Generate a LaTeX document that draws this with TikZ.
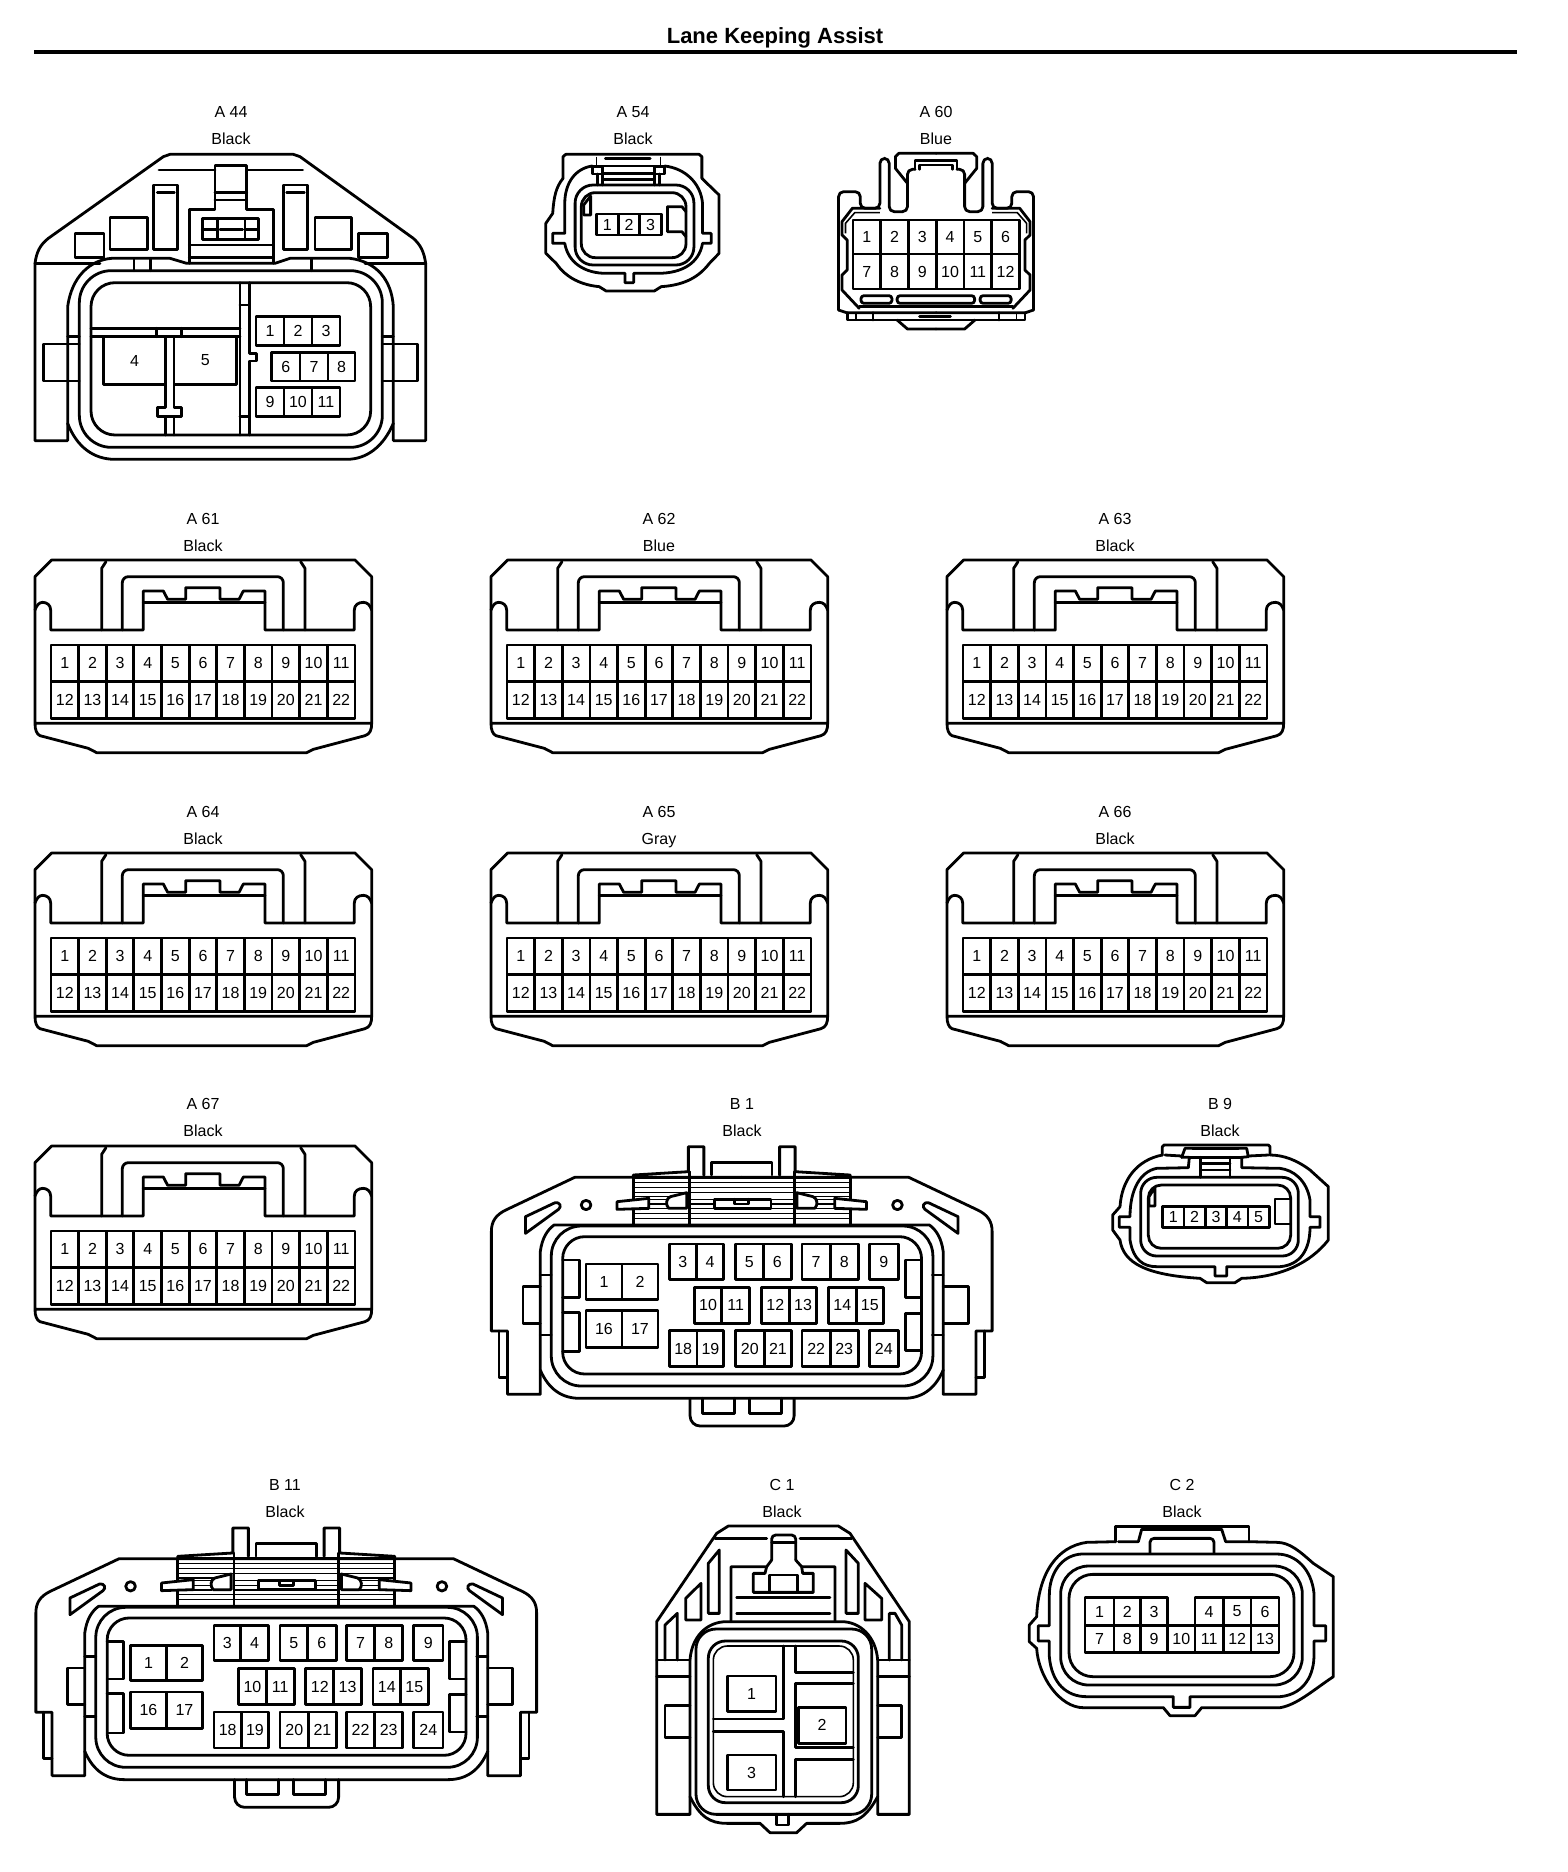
\documentclass[tikz,border=0pt]{standalone}
\usepackage{fontspec}
\setmainfont{Liberation Sans}

\tikzset{
  wire/.style={line width=2.8pt, line join=round, line cap=round},
  fine/.style={line width=1.6pt},
  pinnum/.style={inner sep=0pt, font=\fontsize{16}{16}\selectfont},
  tag/.style={inner sep=0pt, text height=11.5pt, text depth=0pt, font=\fontsize{16}{16}\selectfont},
}

% one pin per entry: number/left/top/right/bottom
\newcommand{\pincells}[1]{%
  \foreach \n/\xa/\ya/\xb/\yb in {#1} {
    \draw[wire] (\xa,\ya) rectangle (\xb,\yb) node[pinnum, midway] (pin\n) {\n};
  }}
% a row of equal pins: first number/last number/left/step/top/bottom
\newcommand{\pinrow}[6]{%
  \foreach \n in {#1,...,#2} {
    \pgfmathsetmacro{\xa}{#3+#4*(\n-#1)}
    \pgfmathsetmacro{\xb}{\xa+#4}
    \draw[wire] (\xa,#5) rectangle (\xb,#6) node[pinnum, midway] (pin\n) {\n};
  }}
\newcommand{\conlabel}[5]{%
  \node[tag] (#1name) at (#2,#3) {#4};
  \node[tag] (#1color) at (#2,#3+27) {#5};}

% half of the large 24 pin housing
\newcommand{\bigside}{%
  \draw[wire] (760,232) -- (445,232) -- (445,225) -- (605,215) -- (605,140) -- (650,140) -- (650,225);
  \draw[wire] (445,232) -- (275,232) -- (75,330) .. controls (45,345) and (33,365) .. (33,395) -- (33,693) -- (80,693) -- (80,883) -- (175,883) -- (175,810);
  \draw[wire] (55,693) -- (55,832) -- (80,832);
  \draw[wire] (175,525) -- (207,525);
  \draw[wire] (175,705) -- (207,705);
  \draw[wire] (672,225) -- (672,187) -- (760,187);
  \draw[wire] (608,215) -- (608,372);
  \draw[wire] (445,232) -- (445,372);
  \foreach \yy in {247,262,277,340,355} {\draw[fine] (445,\yy) -- (760,\yy);}
  \foreach \yy in {298,312,326} {
    \draw[fine] (490,\yy) -- (545,\yy);
    \draw[fine] (610,\yy) -- (680,\yy);
  }
  \draw[fine] (445,290) -- (600,290);
  \draw[wire, fill=white] (398,305) -- (490,295) -- (490,325) -- (398,328) -- cycle;
  \draw[wire, fill=white] (600,278) -- (553,290) .. controls (540,295) and (538,315) .. (548,325) -- (600,325) -- cycle;
  \draw[wire] (308,315) circle [radius=14];
  \draw[wire] (132,350) -- (218,308) .. controls (232,305) and (238,320) .. (228,328) -- (132,400) -- cycle;
}

\tikzset{
  acon/.pic={
    \begin{scope}[scale=1/3]
      \draw[wire] (45,640) -- (45,200) -- (95,150) -- (1005,150) -- (1055,200) -- (1055,640) .. controls (1055,660) and (1050,672) .. (1035,677) -- (880,718) -- (860,728) -- (230,728) -- (205,715) -- (60,677) .. controls (50,672) and (45,660) .. (45,640) -- (1055,640);
      \draw[wire] (45,300) .. controls (50,285) and (58,277) .. (68,277) .. controls (80,277) and (92,285) .. (92,300) -- (92,360) -- (370,360) -- (370,243) -- (430,243) -- (443,268) -- (497,268) -- (497,233) -- (600,233) -- (600,268) -- (657,268) -- (670,243) -- (735,243) -- (735,360) -- (1003,360) -- (1003,300) .. controls (1003,285) and (1015,277) .. (1030,277) .. controls (1042,277) and (1050,285) .. (1055,300);
      \draw[wire] (370,278) -- (735,278);
      \draw[wire] (245,360) -- (245,175) -- (258,155);
      \draw[wire] (855,360) -- (855,175) -- (842,155);
      \draw[wire, rounded corners=6pt] (307,360) -- (307,200) -- (790,200) -- (790,360);
      \pinrow{1}{11}{93}{82.9}{405}{515}
      \pinrow{12}{22}{93}{82.9}{515}{625}
    \end{scope}
  },
  bcon/.pic={
    \begin{scope}[xscale=0.3444, yscale=1/3]
      \bigside
      \begin{scope}[xshift=1520pt, xscale=-1]
        \bigside
      \end{scope}
      \draw[wire] (445,232) -- (1075,232);
      \draw[wire, fill=white] (680,298) rectangle (845,325);
      \draw[wire] (740,298) -- (740,312) -- (780,312) -- (780,298);
      \draw[wire] (175,810) -- (175,455) .. controls (180,415) and (195,390) .. (215,375) -- (1305,375) .. controls (1325,390) and (1340,415) .. (1345,455) -- (1345,810) .. controls (1320,870) and (1280,895) .. (1230,895) -- (290,895) .. controls (240,895) and (200,870) .. (175,810);
      \draw[wire, rounded corners=30pt] (207,378) rectangle (1315,858);
      \draw[wire, rounded corners=22pt] (240,410) rectangle (1282,822);
      \draw[wire] (175,560) -- (125,560) -- (125,670) -- (175,670);
      \draw[wire] (1345,560) -- (1418,560) -- (1418,670) -- (1345,670);
      \draw[wire] (240,480) -- (288,480) -- (288,593) -- (240,593);
      \draw[wire] (240,637) -- (288,637) -- (288,755) -- (240,755);
      \draw[wire] (1282,480) -- (1235,480) -- (1235,593) -- (1282,593);
      \draw[wire] (1282,640) -- (1235,640) -- (1235,752) -- (1282,752);
      \draw[wire, rounded corners=10pt] (610,895) -- (610,978) -- (912,978) -- (912,895);
      \draw[wire] (645,895) -- (645,940) -- (738,940) -- (738,895);
      \draw[wire] (782,895) -- (782,940) -- (875,940) -- (875,895);
      \pincells{1/308/492/412/598, 2/412/492/517/598, 16/308/632/412/742, 17/412/632/517/742,
        3/550/432/628/538, 4/628/432/708/538, 5/742/432/822/538, 6/822/432/905/538,
        7/935/432/1017/538, 8/1017/432/1098/538, 9/1130/432/1215/538,
        10/622/562/702/670, 11/702/562/783/670, 12/817/562/898/670, 13/898/562/978/670,
        14/1012/562/1092/670, 15/1092/562/1172/670,
        18/550/692/630/800, 19/630/692/708/800, 20/742/692/825/800, 21/825/692/905/800,
        22/935/692/1017/800, 23/1017/692/1098/800, 24/1130/692/1215/800}
    \end{scope}
  },
}

\begin{document}
\begin{tikzpicture}[x=1pt, y=-1pt]
    \useasboundingbox (0,0) rectangle (1568,1872);

    \node[inner sep=0pt, font=\fontsize{22}{22}\selectfont\bfseries] (title) at (775,38) {Lane Keeping Assist};
    \coordinate (ruleL) at (34,52);
    \coordinate (ruleR) at (1517,52);
    \draw[line width=4pt] (ruleL) -- (ruleR);

    \conlabel{a44}{231}{112}{A 44}{Black}
    \conlabel{a54}{633}{112}{A 54}{Black}
    \conlabel{a60}{936}{112}{A 60}{Blue}
    \conlabel{a61}{203}{519}{A 61}{Black}
    \conlabel{a62}{659}{519}{A 62}{Blue}
    \conlabel{a63}{1115}{519}{A 63}{Black}
    \conlabel{a64}{203}{812}{A 64}{Black}
    \conlabel{a65}{659}{812}{A 65}{Gray}
    \conlabel{a66}{1115}{812}{A 66}{Black}
    \conlabel{a67}{203}{1104}{A 67}{Black}
    \conlabel{b1}{742}{1104}{B 1}{Black}
    \conlabel{b9}{1220}{1104}{B 9}{Black}
    \conlabel{b11}{285}{1485}{B 11}{Black}
    \conlabel{c1}{782}{1485}{C 1}{Black}
    \conlabel{c2}{1182}{1485}{C 2}{Black}

    % A 44
    \begin{scope}[scale=1/3, name prefix=a44]
      \draw[wire] (203,1270) -- (203,1322) -- (105,1322) -- (105,790) .. controls (110,755) and (120,735) .. (145,715) -- (490,470) -- (510,463) -- (880,463) -- (900,470) -- (1240,715) .. controls (1262,735) and (1272,755) .. (1277,790) -- (1277,1322) -- (1180,1322) -- (1180,1270);
      \draw[wire] (105,790) -- (300,790);
      \draw[wire] (1095,790) -- (1277,790);
      \draw[wire] (203,1270) -- (203,920) .. controls (215,830) and (270,780) .. (335,775) -- (510,775) -- (560,790) -- (825,790) -- (870,775) -- (1050,775) .. controls (1130,785) and (1175,840) .. (1180,920) -- (1180,1270) .. controls (1150,1340) and (1100,1378) .. (1040,1378) -- (345,1378) .. controls (280,1378) and (230,1340) .. (203,1270);
      \draw[wire, rounded corners=32pt] (238,812) rectangle (1147,1342);
      \draw[wire, rounded corners=24pt] (273,848) rectangle (1112,1305);
      \draw[wire] (203,1032) -- (130,1032) -- (130,1143) -- (238,1143);
      \draw[wire] (203,1010) -- (238,1010);
      \draw[wire] (203,1032) -- (238,1032);
      \draw[wire] (1147,1010) -- (1180,1010);
      \draw[wire] (1147,1032) -- (1253,1032) -- (1253,1143) -- (1147,1143);
      \draw[wire] (402,778) -- (402,812);
      \draw[wire] (452,778) -- (452,812);
      \draw[wire] (935,778) -- (935,812);
      % cover
      \draw[wire] (477,510) -- (645,510);
      \draw[wire] (740,510) -- (908,510);
      \draw[wire] (568,790) -- (568,628) -- (645,628) -- (645,497) -- (740,497) -- (740,628) -- (820,628) -- (820,790);
      \draw[wire] (645,577) -- (740,577);
      \draw[wire] (645,600) -- (740,600);
      \draw[wire] (607,718) rectangle (775,655);
      \draw[wire] (652,655) -- (652,718);
      \draw[wire] (735,655) -- (735,718);
      \draw[wire] (607,688) -- (652,688);
      \draw[wire] (660,688) -- (728,688);
      \draw[wire] (735,688) -- (775,688);
      \draw[wire] (568,735) -- (820,735);
      \draw[wire] (568,773) -- (820,773);
      \draw[wire] (460,555) rectangle (533,748);
      \draw[wire] (472,578) -- (523,578);
      \draw[wire] (850,555) rectangle (923,748);
      \draw[wire] (860,578) -- (913,578);
      \draw[wire] (330,652) rectangle (442,748);
      \draw[wire] (945,652) rectangle (1055,748);
      \draw[wire] (225,700) rectangle (312,772);
      \draw[wire] (1075,700) rectangle (1162,772);
      % walls
      \draw[wire] (273,985) -- (720,985);
      \draw[wire] (273,1010) -- (720,1010);
      \draw[wire] (470,985) -- (470,1010);
      \draw[wire] (545,985) -- (545,1010);
      \draw[wire] (720,848) -- (720,1305);
      \draw[wire] (748,848) -- (748,1060) -- (770,1060) -- (770,1083) -- (748,1083) -- (748,1305);
      \draw[wire] (720,915) -- (748,915);
      \draw[wire] (720,1250) -- (748,1250);
      \draw[wire] (497,1010) -- (497,1222) -- (472,1222) -- (472,1250) -- (545,1250) -- (545,1222) -- (522,1222) -- (522,1010);
      \draw[wire] (497,1250) -- (497,1305);
      \draw[wire] (522,1250) -- (522,1305);
      \pincells{4/310/1010/497/1153, 5/522/1010/710/1153,
        1/768/950/852/1037, 2/852/950/936/1037, 3/936/950/1020/1037,
        6/815/1058/900/1143, 7/900/1058/984/1143, 8/984/1058/1065/1143,
        9/768/1163/852/1250, 10/852/1163/936/1250, 11/936/1163/1020/1250}
    \end{scope}

    % A 54
    \begin{scope}[shift={(520,90)}, xscale=0.3444, yscale=1/3, name prefix=a54]
      \draw[wire] (125,265) -- (125,200) -- (133,193) -- (520,193) -- (528,200) -- (528,265);
      \draw[wire] (125,265) .. controls (105,290) and (98,320) .. (95,370) -- (75,400) -- (75,490) -- (105,520) .. controls (135,565) and (180,585) .. (230,590) -- (250,603) -- (390,603) -- (410,590) .. controls (480,585) and (520,560) .. (550,520) -- (578,490) -- (578,315) -- (528,265);
      \draw[fine] (222,200) -- (222,228);
      \draw[fine] (408,200) -- (408,228);
      \draw[wire] (248,205) -- (378,205);
      \draw[wire] (210,228) .. controls (160,235) and (130,280) .. (130,340) -- (130,430) -- (95,430) -- (95,460) -- (130,460) .. controls (140,520) and (190,550) .. (250,550) -- (305,550) -- (305,578) -- (330,578) -- (330,550) -- (400,550) .. controls (470,550) and (520,520) .. (530,460) -- (555,460) -- (555,430) -- (530,430) -- (530,340) .. controls (525,280) and (480,235) .. (420,228);
      \draw[wire, rounded corners=18pt] (160,285) rectangle (505,525);
      \draw[wire, rounded corners=14pt] (178,308) rectangle (482,503);
      \draw[wire] (210,230) rectangle (240,252);
      \draw[wire] (390,230) rectangle (420,252);
      \draw[wire] (225,252) -- (225,285);
      \draw[wire] (240,252) -- (240,285);
      \draw[wire] (390,252) -- (390,285);
      \draw[wire] (405,252) -- (405,285);
      \draw[wire] (210,228) -- (420,228);
      \draw[wire] (245,250) -- (385,250);
      \draw[wire] (245,268) -- (385,268);
      \draw[wire] (205,318) -- (185,345) -- (185,375) -- (205,375) -- cycle;
      \draw[wire] (482,365) -- (470,350) -- (428,350) -- (428,425) -- (470,425) -- (482,440);
      \pincells{1/222/372/285/435, 2/285/372/348/435, 3/348/372/410/435}
    \end{scope}

    % A 60
    \begin{scope}[shift={(520,90)}, xscale=0.3444, yscale=1/3, name prefix=a60]
      \foreach \mir/\off in {1/0, -1/2416} {
        \begin{scope}[xshift=\off pt, xscale=\mir]
          \draw[wire, rounded corners=5pt] (925,660) -- (925,305) -- (988,305) -- (988,355) -- (1045,355) -- (1045,205) -- (1072,205) -- (1072,365) -- (1125,365) -- (1125,238) -- (1147,238);
          \draw[wire] (1208,190) -- (1100,190) -- (1090,200) -- (1090,235) -- (1125,280);
          \draw[wire] (1147,238) -- (1147,212) -- (1208,212);
          \draw[wire] (1160,238) -- (1160,225) -- (1208,225);
          \draw[wire] (1045,355) -- (965,355) -- (935,395) -- (935,435) -- (950,450) -- (950,540) -- (935,555) -- (935,600) -- (985,655);
          \draw[fine] (1045,368) -- (972,368) -- (945,400) -- (945,430);
          \draw[wire] (925,660) -- (948,668) -- (1208,668);
          \draw[wire] (950,668) -- (950,690) -- (1208,690);
          \draw[fine] (975,668) -- (975,690);
          \draw[wire] (1025,668) -- (1025,690);
          \draw[wire] (1095,690) -- (1125,717) -- (1208,717);
          \draw[wire, rounded corners=3pt] (990,617) rectangle (1080,640);
          \draw[wire] (985,650) -- (1208,650);
        \end{scope}
      }
      \draw[wire, rounded corners=3pt] (1095,617) rectangle (1320,640);
      \draw[wire] (1160,680) -- (1250,680);
      \pinrow{1}{6}{967}{80.5}{390}{492}
      \pinrow{7}{12}{967}{80.5}{492}{597}
    \end{scope}

    \pic (a61) at (20,510) {acon};
    \pic (a62) at (476,510) {acon};
    \pic (a63) at (932,510) {acon};
    \pic (a64) at (20,803) {acon};
    \pic (a65) at (476,803) {acon};
    \pic (a66) at (932,803) {acon};
    \pic (a67) at (20,1096) {acon};
    \pic (b1) at (480,1100) {bcon};
    \pic (b11) at (24.5,1481.3) {bcon};

    % B 9
    \begin{scope}[shift={(1100,1100)}, scale=1/3, name prefix=b9]
      \draw[wire] (187,165) -- (187,140) -- (192,135) -- (505,135) -- (510,140) -- (510,165);
      \draw[wire] (187,165) .. controls (110,180) and (65,240) .. (60,320) -- (38,345) -- (38,390) -- (60,420) .. controls (70,490) and (140,525) .. (300,535) -- (320,548) -- (405,548) -- (425,535) .. controls (540,532) and (630,490) .. (685,420) -- (685,260) -- (630,210) .. controls (590,180) and (550,165) .. (510,165);
      \draw[wire] (195,165) -- (245,168);
      \draw[wire] (245,172) -- (255,145) -- (440,145) -- (445,170);
      \draw[wire] (445,168) -- (505,165);
      \draw[wire] (278,145) -- (415,145);
      \draw[wire] (245,172) -- (268,172) -- (265,203) -- (170,205) .. controls (120,215) and (90,270) .. (90,350) -- (58,350) -- (58,382) -- (90,382) -- (90,420) .. controls (100,480) and (130,500) .. (170,500) -- (345,500) -- (345,528) -- (380,528) -- (380,500) -- (540,500) .. controls (600,495) and (630,450) .. (630,382) -- (660,382) -- (660,350) -- (630,350) -- (630,300) .. controls (620,240) and (580,210) .. (540,205) -- (425,203) -- (425,172) -- (445,170);
      \draw[wire] (268,172) -- (425,172);
      \draw[wire, rounded corners=16pt] (122,232) rectangle (595,468);
      \draw[wire, rounded corners=13pt] (145,255) rectangle (572,445);
      \draw[wire] (302,172) -- (302,232);
      \draw[wire] (390,172) -- (390,232);
      \draw[wire] (302,190) -- (390,190);
      \draw[wire] (302,210) -- (390,210);
      \draw[wire] (165,262) -- (147,290) -- (147,318) -- (165,318) -- cycle;
      \draw[wire] (572,297) -- (525,297) -- (525,372) -- (572,372);
      \pinrow{1}{5}{188}{64}{320}{382}
    \end{scope}

    % C 1
    \begin{scope}[shift={(650,1480)}, scale=1/3, name prefix=c1]
      \draw[wire] (120,950) -- (120,1003) -- (20,1003) -- (20,425) -- (200,160) -- (235,138) -- (565,138) -- (600,160) -- (778,425) -- (778,1003) -- (683,1003) -- (683,950);
      \draw[wire] (195,175) -- (350,175);
      \draw[wire] (450,175) -- (605,175);
      \draw[wire, rounded corners=4pt] (365,240) -- (365,165) -- (437,165) -- (437,240);
      \draw[wire] (365,188) -- (437,188);
      \draw[wire] (243,425) -- (243,260) -- (350,260) -- (365,240);
      \draw[wire] (437,240) -- (455,260) -- (555,260) -- (555,425);
      \draw[wire] (350,260) -- (345,280) -- (310,280) -- (310,337) -- (490,337) -- (490,280) -- (458,280) -- (455,260);
      \draw[wire] (358,337) -- (358,285) -- (442,285) -- (442,337);
      \draw[wire] (260,352) -- (540,352);
      \draw[wire] (260,400) -- (540,400);
      \draw[wire] (175,400) -- (175,250) -- (208,210) -- (208,400) -- cycle;
      \draw[wire] (588,400) -- (588,210) -- (625,250) -- (625,400) -- cycle;
      \draw[wire] (107,420) -- (107,355) -- (153,310) -- (153,420) -- cycle;
      \draw[wire] (645,420) -- (645,310) -- (695,355) -- (695,420) -- cycle;
      \draw[wire] (45,540) -- (45,435) -- (82,400) -- (82,540);
      \draw[wire] (718,540) -- (718,400) -- (735,400) -- (755,435) -- (755,540);
      \draw[wire] (20,540) -- (120,540);
      \draw[wire] (20,590) -- (120,590);
      \draw[wire] (683,540) -- (778,540);
      \draw[wire] (683,590) -- (778,590);
      \draw[wire] (120,677) -- (45,677) -- (45,772) -- (120,772);
      \draw[wire] (683,677) -- (755,677) -- (755,772) -- (683,772);
      \draw[wire] (120,950) -- (120,540) .. controls (125,470) and (170,425) .. (230,425) -- (575,425) .. controls (630,425) and (678,470) .. (683,540) -- (683,950) .. controls (650,1010) and (620,1030) .. (570,1030) -- (470,1030) -- (440,1058) -- (360,1058) -- (330,1030) -- (230,1030) .. controls (180,1030) and (150,1010) .. (120,950);
      \draw[wire] (380,1003) -- (380,1035) -- (415,1035) -- (415,1003);
      \draw[wire, rounded corners=20pt] (138,447) rectangle (665,1003);
      \draw[wire, rounded corners=17pt] (175,483) rectangle (625,968);
      \draw[fine, rounded corners=14pt] (190,498) rectangle (610,950);
      \draw[wire] (400,498) -- (400,717) -- (190,717);
      \draw[wire] (190,755) -- (400,755) -- (400,950);
      \draw[wire] (437,498) -- (437,577) -- (610,577);
      \draw[wire] (610,610) -- (437,610) -- (437,803) -- (610,803);
      \draw[wire] (610,838) -- (437,838) -- (437,950);
      \pincells{1/232/588/378/695, 2/445/682/588/790, 3/232/825/378/930}
    \end{scope}

    % C 2
    \begin{scope}[shift={(1020,1480)}, scale=1/3, name prefix=c2]
      \draw[wire] (287,185) -- (287,140) -- (687,140) -- (687,185);
      \draw[wire] (287,185) -- (200,187) .. controls (110,200) and (55,280) .. (50,410) -- (28,435) -- (28,485) -- (50,505) .. controls (55,590) and (120,683) .. (190,683) -- (430,683) -- (450,707) -- (525,707) -- (545,683) -- (780,683) .. controls (830,675) and (880,630) .. (940,590) -- (940,290) -- (880,250) .. controls (840,215) and (810,187) .. (770,187) -- (687,185);
      \draw[wire] (295,185) -- (355,185) -- (365,148) -- (605,148) -- (617,185) -- (687,185);
      \draw[wire, rounded corners=4pt] (390,218) -- (390,175) -- (582,175) -- (582,218);
      \draw[wire] (185,222) .. controls (125,225) and (88,280) .. (88,345) -- (88,437) -- (55,437) -- (55,483) -- (88,483) -- (88,530) .. controls (95,610) and (140,650) .. (200,650) -- (460,650) -- (460,682) -- (510,682) -- (510,650) -- (780,650) .. controls (840,645) and (880,600) .. (882,530) -- (882,483) -- (917,483) -- (917,437) -- (882,437) -- (882,340) .. controls (875,270) and (830,222) .. (770,222) -- cycle;
      \draw[wire, rounded corners=28pt] (122,258) rectangle (847,615);
      \draw[wire, rounded corners=24pt] (147,283) rectangle (822,590);
      \pincells{1/195/352/282/437, 2/282/352/362/437, 3/362/352/443/437,
        4/525/352/610/437, 5/610/352/693/437, 6/693/352/777/437,
        7/195/437/282/518, 8/282/437/362/518, 9/362/437/443/518, 10/443/437/525/518,
        11/525/437/610/518, 12/610/437/693/518, 13/693/437/777/518}
    \end{scope}
\end{tikzpicture}
\end{document}
